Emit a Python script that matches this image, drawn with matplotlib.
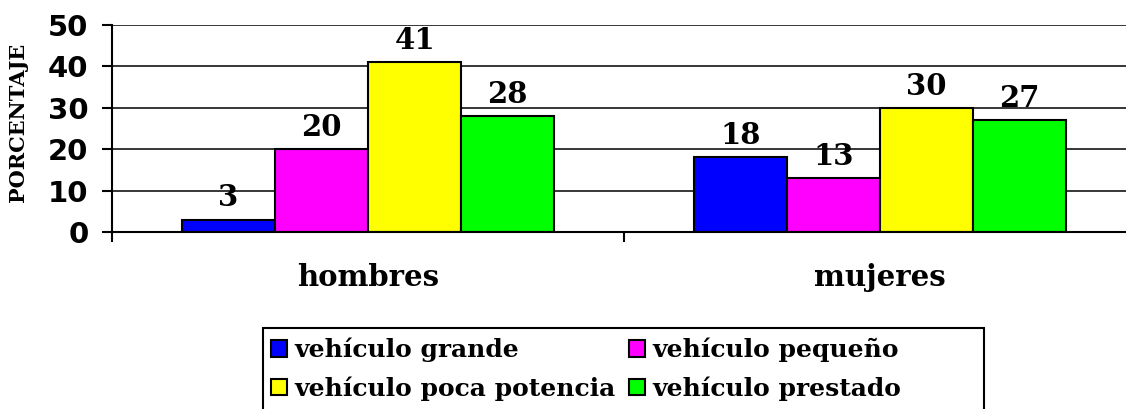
import matplotlib.pyplot as plt
import numpy as np
from matplotlib.patches import Rectangle

groups = ["hombres", "mujeres"]
series = ["vehículo grande", "vehículo pequeño", "vehículo poca potencia", "vehículo prestado"]
values = {
    "vehículo grande": [3, 18],
    "vehículo pequeño": [20, 13],
    "vehículo poca potencia": [41, 30],
    "vehículo prestado": [28, 27],
}
colors = ["#0000FF", "#FF00FF", "#FFFF00", "#00FF00"]
yticks = [0, 10, 20, 30, 40, 50]

serif = "DejaVu Serif"
sans = "DejaVu Sans"

fig = plt.figure(figsize=(11.26, 4.09), dpi=100)
ax = fig.add_axes([112/1126, 1-232/409, 1024/1126, 207/409])

x = np.arange(len(groups))
w = 0.182
handles = []
for i, s in enumerate(series):
    pos = x + (i - 1.5) * w
    bars = ax.bar(pos, values[s], width=w, color=colors[i], edgecolor="black",
                  linewidth=1.5, label=s, zorder=3)
    handles.append(bars)
    for b in bars:
        ax.annotate(f"{b.get_height():.0f}", (b.get_x() + b.get_width()/2, b.get_height()),
                    xytext=(0, 9.5), textcoords="offset points", ha="center", va="baseline",
                    fontsize=21, fontweight="bold", family=serif)

ax.set_xlim(-0.5, 1.5)
ax.set_ylim(0, 50)
ax.set_yticks(yticks)
ax.set_yticklabels([str(t) for t in yticks], fontsize=21, fontweight="bold", family=sans)
ax.set_xticks(x)
ax.set_xticklabels(groups, fontsize=21, fontweight="bold", family=serif)
ax.set_xticks([-0.5, 0.5, 1.5], minor=True)
ax.tick_params(axis="x", which="major", length=0, pad=22)
ax.tick_params(axis="x", which="minor", length=7, width=1.5, direction="out")
ax.tick_params(axis="y", length=7, width=1.5, direction="out", pad=10)
ax.yaxis.grid(True, color="black", linewidth=1.1, zorder=0)
ax.set_axisbelow(True)
for sp in ["top", "right"]:
    ax.spines[sp].set_visible(False)
for sp in ["left", "bottom"]:
    ax.spines[sp].set_linewidth(1.5)
    ax.spines[sp].set_zorder(4)

ax.set_ylabel("PORCENTAJE", fontsize=15, fontweight="bold", family=serif)
ax.yaxis.set_label_coords(-0.082, 0.53)

fig.patches.append(Rectangle((263/1126, -0.05), 721/1126, 0.05 + 1 - 328/409,
                             transform=fig.transFigure, fill=False, edgecolor="black",
                             linewidth=1.5))
# legend fills column-wise: reorder so rows read grande/pequeño, poca potencia/prestado
order = [0, 2, 1, 3]
leg = fig.legend([handles[k] for k in order], [series[k] for k in order],
                 loc="upper left", bbox_to_anchor=(271/1126, 1 - 338/409), ncol=2,
                 frameon=False, prop={"family": serif, "weight": "bold", "size": 18},
                 handlelength=0.65, handleheight=0.65, handletextpad=0.3,
                 columnspacing=0.5, labelspacing=0.55, borderpad=0, borderaxespad=0)
for p in leg.get_patches():
    p.set_linewidth(1.5)

fig.savefig("out.png", dpi=100)
